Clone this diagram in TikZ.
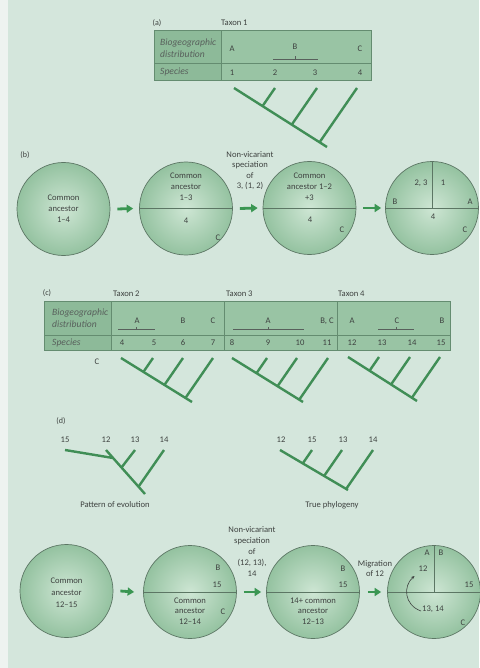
\documentclass[tikz,border=0pt]{standalone}
\usepackage{fontspec}
\setmainfont{Carlito}
\usetikzlibrary{arrows.meta}
\definecolor{bg}{RGB}{212,230,220}
\definecolor{strip}{RGB}{238,243,240}
\definecolor{cellA}{RGB}{141,186,153}
\definecolor{cellB}{RGB}{153,196,164}
\definecolor{cellline}{RGB}{100,140,112}
\definecolor{treeg}{RGB}{64,142,86}
\definecolor{arrowg}{RGB}{58,150,82}
\definecolor{circin}{RGB}{206,230,212}
\definecolor{circout}{RGB}{148,194,160}
\definecolor{circedge}{RGB}{92,118,100}
\definecolor{txt}{RGB}{62,66,64}
\definecolor{hdr}{RGB}{88,96,92}
\newcommand\cladetree[6]{% x0,y0,xroot,yroot,tips,k
  \draw[tree] (#1,#2) -- (#3,#4);
  \pgfmathsetmacro\clsl{(#4-#2)/(#3-#1)}
  \foreach \t in {#5}{
    \pgfmathsetmacro\jx{(\clsl*#1+#6*\t)/(\clsl+#6)}
    \pgfmathsetmacro\jy{#2+\clsl*(\jx-#1)}
    \draw[tree] (\t,#2) -- (\jx,\jy);
  }}
\begin{document}
\begin{tikzpicture}[x=1pt,y=-1pt,
  lbl/.style={font=\fontsize{8.6}{11}\selectfont, text=txt, inner sep=0pt, align=center},
  small/.style={font=\fontsize{8}{9}\selectfont, text=txt, inner sep=0pt},
  hdrtext/.style={font=\fontsize{9.6}{10}\selectfont\itshape, text=hdr, inner sep=0pt, anchor=west},
  circ/.style={circle, draw=circedge, line width=0.7pt, inner color=circin, outer color=circout, minimum size=93pt, inner sep=0pt},
  chord/.style={draw=circedge, line width=0.7pt},
  bigarrow/.style={draw=arrowg, line width=2.8pt, -{Triangle[length=6.5pt,width=8pt]}},
  tree/.style={draw=treeg, line width=2.4pt},
  cellH/.style={fill=cellA, draw=cellline, line width=0.7pt},
  cellD/.style={fill=cellB, draw=cellline, line width=0.7pt},
  brace/.style={draw=hdr, line width=0.8pt},
]
\useasboundingbox (0,0) rectangle (479,668);
\fill[bg] (0,0) rectangle (479,668);
\fill[strip] (0,0) rectangle (8,668);

% ---------------- (a) ----------------
\node[small] (la) at (157,23) {(a)};
\node[lbl, anchor=west] (tx1) at (221,23) {Taxon 1};
\draw[cellD] (154,30) rectangle (371,80);
\draw[cellH] (154,30) rectangle (221,80);
\draw[draw=cellline, line width=0.7pt] (154,63.5) -- (371,63.5);
\node[hdrtext] (h1a) at (160,43) {Biogeographic};
\node[hdrtext] (h1b) at (160,54) {distribution};
\node[hdrtext] (h1c) at (160,72) {Species};
\node[lbl] (a1A) at (232,49) {A};
\node[lbl] (a1B) at (295,47) {B};
\node[lbl] (a1C) at (360,49) {C};
\draw[brace] (273,59) -- (318,59) (295.5,59) -- (295.5,56.5);
\node[lbl] (s1) at (232,73) {1};
\node[lbl] (s2) at (275,73) {2};
\node[lbl] (s3) at (315,73) {3};
\node[lbl] (s4) at (360,73) {4};
\cladetree{234}{88}{327}{147}{275,317,357}{1.45}

% ---------------- (b) ----------------
\node[small] (lb) at (25,155) {(b)};
\node[circ] (c1) at (63.5,209) {};
\node[circ] (c2) at (186,208.5) {};
\node[circ] (c3) at (309.5,208) {};
\node[circ] (c4) at (432,208) {};
\draw[chord] (c2.west) -- (c2.east);
\draw[chord] (c3.west) -- (c3.east);
\draw[chord] (c4.west) -- (c4.east);
\draw[chord] (c4.north) -- (c4.center);
\node[lbl] (t1) at (63.5,209) {Common\\ancestor\\1--4};
\node[lbl] (t2) at (186,187) {Common\\ancestor\\1--3};
\node[lbl] (t2b) at (186,221) {4};
\node[lbl] (t2c) at (218,238) {C};
\node[lbl, font=\fontsize{8.6}{10.3}\selectfont] (nv1) at (250,170.5) {Non-vicariant\\speciation\\of\\3, (1, 2)};
\node[lbl] (t3) at (309.5,187) {Common\\ancestor 1--2\\+3};
\node[lbl] (t3b) at (310,220) {4};
\node[lbl] (t3c) at (342,230) {C};
\node[lbl] (t4a) at (421,183) {2, 3};
\node[lbl] (t4b) at (443,183) {1};
\node[lbl] (t4B) at (395,202) {B};
\node[lbl] (t4A) at (470,202) {A};
\node[lbl] (t44) at (433,217) {4};
\node[lbl] (t4C) at (465,230) {C};
\draw[bigarrow] ([xshift=7pt]c1.east) -- ([xshift=-6pt]c2.west);
\draw[bigarrow] ([xshift=7pt]c2.east) -- ([xshift=-5pt]c3.west);
\draw[bigarrow] ([xshift=7pt]c3.east) -- ([xshift=-4pt]c4.west);

% ---------------- (c) ----------------
\node[small] (lc) at (47,293) {(c)};
\node[lbl, anchor=west] (tx2) at (113,294) {Taxon 2};
\node[lbl, anchor=west] (tx3) at (226,294) {Taxon 3};
\node[lbl, anchor=west] (tx4) at (338,294) {Taxon 4};
\draw[cellD] (44,301) rectangle (450,350);
\draw[cellH] (44,301) rectangle (111,350);
\draw[draw=cellline, line width=0.7pt] (44,335) -- (450,335) (224,301) -- (224,350) (337,301) -- (337,350);
\node[hdrtext] (h2a) at (52,313) {Biogeographic};
\node[hdrtext] (h2b) at (52,324) {distribution};
\node[hdrtext] (h2c) at (52,343) {Species};
% taxon 2
\node[lbl] (c2A) at (137,321) {A};
\draw[brace] (118,329) -- (155,329) (136.5,329) -- (136.5,326.5);
\node[lbl] (c2B) at (183,321) {B};
\node[lbl] (c2C) at (213,321) {C};
\node[lbl] (sp4) at (122,343) {4};
\node[lbl] (sp5) at (154,343) {5};
\node[lbl] (sp6) at (183,343) {6};
\node[lbl] (sp7) at (213,343) {7};
% taxon 3
\node[lbl] (c3A) at (268,321) {A};
\draw[brace] (233,329) -- (304,329) (268.5,329) -- (268.5,326.5);
\node[lbl] (c3BC) at (327,321) {B, C};
\node[lbl] (sp8) at (232,343) {8};
\node[lbl] (sp9) at (268,343) {9};
\node[lbl] (sp10) at (300,343) {10};
\node[lbl] (sp11) at (327,343) {11};
% taxon 4
\node[lbl] (c4A) at (352,321) {A};
\node[lbl] (c4C) at (397,321) {C};
\draw[brace] (378,329) -- (414,329) (396,329) -- (396,326.5);
\node[lbl] (c4B) at (442,321) {B};
\node[lbl] (sp12) at (352,343) {12};
\node[lbl] (sp13) at (382,343) {13};
\node[lbl] (sp14) at (412,343) {14};
\node[lbl] (sp15) at (441,343) {15};
\node[lbl] (cC) at (97,362) {C};
\cladetree{121}{358}{192}{402}{153,183,213}{1.45}
\cladetree{232}{358}{303}{402}{267,297,328}{1.45}
\cladetree{348}{357}{417}{401}{379,410,440}{1.45}

% ---------------- (d) ----------------
\node[small] (ld) at (61,421) {(d)};
\node[lbl] (p15) at (65,440) {15};
\node[lbl] (p12) at (106,440) {12};
\node[lbl] (p13) at (135,440) {13};
\node[lbl] (p14) at (164,440) {14};
\draw[tree] (106,450) -- (145,494);
\draw[tree] (65,450) -- (113,458);
\draw[tree] (135,450) -- (121.5,467.5);
\draw[tree] (164,450) -- (138.5,486.7);
\node[lbl] (pe) at (115,505) {Pattern of evolution};
\node[lbl] (q12) at (281,440) {12};
\node[lbl] (q15) at (312,440) {15};
\node[lbl] (q13) at (343,440) {13};
\node[lbl] (q14) at (373,440) {14};
\cladetree{280}{450}{348}{490}{312,342,373}{1.45}
\node[lbl] (tp) at (332,505) {True phylogeny};

% ---------------- bottom row ----------------
\node[circ] (d1) at (66.5,591) {};
\node[circ] (d2) at (190,592) {};
\node[circ] (d3) at (313,592) {};
\node[circ] (d4) at (434,592) {};
\draw[chord] (d2.west) -- (d2.east);
\draw[chord] (d3.west) -- (d3.east);
\draw[chord] (d4.west) -- (d4.east);
\draw[chord] (d4.north) -- (d4.center);
\node[lbl, font=\fontsize{8.6}{12}\selectfont] (u1) at (66.5,593) {Common\\ancestor\\12--15};
\node[lbl] (u2B) at (218,568) {B};
\node[lbl] (u215) at (217,585) {15};
\node[lbl, font=\fontsize{8.6}{10.3}\selectfont] (u2) at (190,611) {Common\\ancestor\\12--14};
\node[lbl] (u2C) at (223,612) {C};
\node[lbl, font=\fontsize{8.6}{10.8}\selectfont] (nv2) at (252,551.5) {Non-vicariant\\speciation\\of\\(12, 13),\\14};
\node[lbl] (u3B) at (343,569) {B};
\node[lbl] (u315) at (343,585) {15};
\node[lbl, font=\fontsize{8.6}{10.5}\selectfont] (u3) at (313,611) {14+ common\\ancestor\\12--13};
\node[lbl, font=\fontsize{8.6}{10.8}\selectfont] (mig) at (375,568.5) {Migration\\of 12};
\node[lbl] (u4A) at (427,553) {A};
\node[lbl] (u4B) at (441,553) {B};
\node[lbl] (u412) at (423,569) {12};
\node[lbl] (u415) at (469,585) {15};
\node[lbl] (u41314) at (433,609) {13, 14};
\node[lbl] (u4C) at (463,623) {C};
\coordinate (ms) at (421,611);
\coordinate (me) at (414.5,576);
\draw[draw=txt, line width=0.6pt, -{Stealth[length=3.5pt,width=3pt]}] (ms) .. controls (404,605) and (403,586) .. (me);
\draw[bigarrow] ([xshift=7pt]d1.east) -- ([xshift=-9pt]d2.west);
\draw[bigarrow] ([xshift=7pt]d2.east) -- ([xshift=-5pt]d3.west);
\draw[bigarrow] ([xshift=8pt]d3.east) -- ([xshift=-6pt]d4.west);
\end{tikzpicture}
\end{document}
